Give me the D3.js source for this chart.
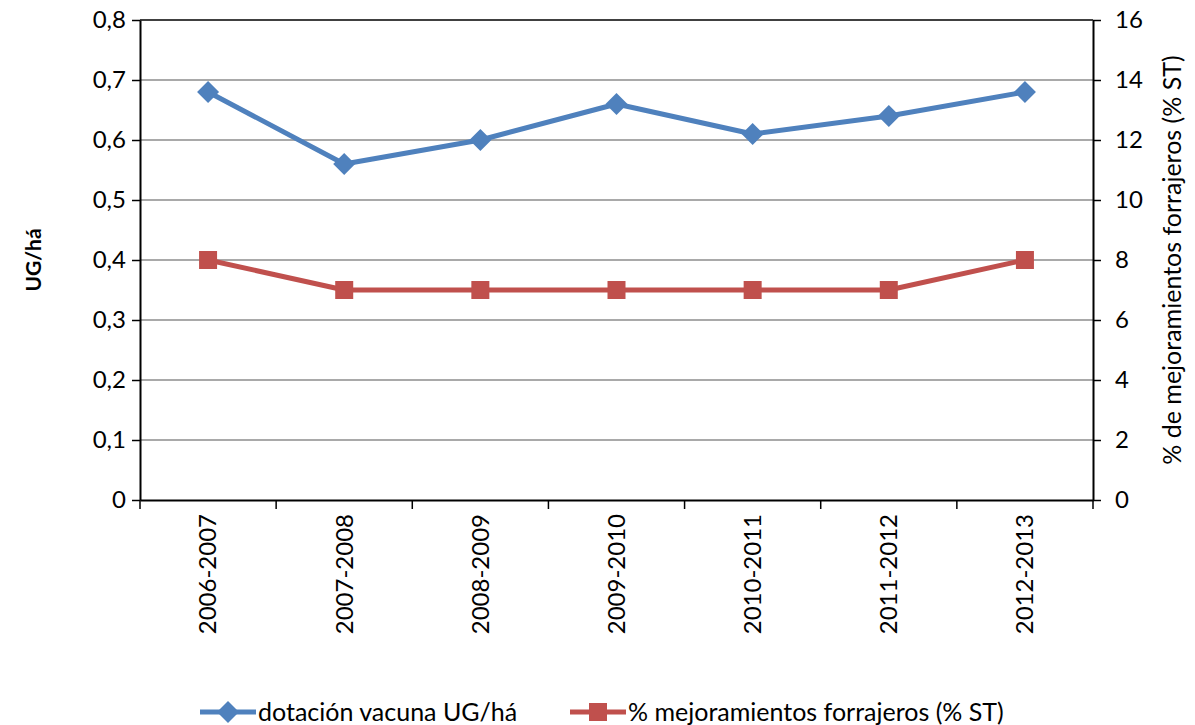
<!DOCTYPE html>
<html>
<head>
<meta charset="utf-8">
<script src="https://cdn.jsdelivr.net/npm/d3@7"></script>
<style>
  body { margin: 0; background: #fff; }
  text { font-family: Lato, "Open Sans", sans-serif; fill: #000; }
</style>
</head>
<body>
<div id="chart"></div>
<script>
var categories = ["2006-2007", "2007-2008", "2008-2009", "2009-2010", "2010-2011", "2011-2012", "2012-2013"];
var dotacion = [0.68, 0.56, 0.60, 0.66, 0.61, 0.64, 0.68];
var mejoramientos = [8, 7, 7, 7, 7, 7, 8];
var leftTicks = [0, 0.1, 0.2, 0.3, 0.4, 0.5, 0.6, 0.7, 0.8];
var rightTicks = [0, 2, 4, 6, 8, 10, 12, 14, 16];

var width = 1195, height = 725;
var plotLeft = 140, plotRight = 1093, plotTop = 20, plotBottom = 500;

var svg = d3.select("#chart").append("svg")
  .attr("width", width).attr("height", height);

var x = d3.scaleBand().domain(categories).range([plotLeft, plotRight]);
var yL = d3.scaleLinear().domain([0, 0.8]).range([plotBottom, plotTop]);
var yR = d3.scaleLinear().domain([0, 16]).range([plotBottom, plotTop]);

// gridlines
svg.append("g").selectAll("line")
  .data(leftTicks.slice(1, -1))
  .enter().append("line")
  .attr("x1", plotLeft).attr("x2", plotRight)
  .attr("y1", function(d) { return yL(d); })
  .attr("y2", function(d) { return yL(d); })
  .attr("stroke", "#8c8c8c").attr("stroke-width", 1.5);

// top border
svg.append("line")
  .attr("x1", plotLeft).attr("x2", plotRight)
  .attr("y1", plotTop).attr("y2", plotTop)
  .attr("stroke", "#000").attr("stroke-width", 1.5);

var fmt = function(d) { return d === 0 ? "0" : d3.format(".1f")(d).replace(".", ","); };

var axL = svg.append("g").attr("transform", "translate(" + plotLeft + ",0)")
  .call(d3.axisLeft(yL).tickValues(leftTicks).tickFormat(fmt).tickSize(8).tickPadding(6).tickSizeOuter(0));
var axR = svg.append("g").attr("transform", "translate(" + plotRight + ",0)")
  .call(d3.axisRight(yR).tickValues(rightTicks).tickSize(8).tickPadding(14).tickSizeOuter(0));

var axB = svg.append("g").attr("transform", "translate(0," + plotBottom + ")")
  .call(d3.axisBottom(x).tickSize(0).tickSizeOuter(0));
axB.selectAll("text")
  .attr("transform", "rotate(-90)")
  .attr("text-anchor", "end")
  .attr("dy", "0.35em")
  .attr("x", -14).attr("y", 0);

// category separator ticks
svg.append("g").selectAll("line")
  .data(d3.range(categories.length + 1))
  .enter().append("line")
  .attr("x1", function(i) { return plotLeft + i * x.step(); })
  .attr("x2", function(i) { return plotLeft + i * x.step(); })
  .attr("y1", plotBottom).attr("y2", plotBottom + 9)
  .attr("stroke", "#000").attr("stroke-width", 1.5);

[axL, axR, axB].forEach(function(a) {
  a.selectAll("path, line").attr("stroke", "#000").attr("stroke-width", 1.5);
  a.select(".domain").attr("stroke-width", 2);
  a.selectAll("text").attr("font-size", 24).attr("font-family", "Lato, sans-serif").attr("fill", "#000");
});

// axis titles
svg.append("text")
  .attr("transform", "translate(41," + ((plotTop + plotBottom) / 2) + ") rotate(-90)")
  .attr("text-anchor", "middle")
  .attr("font-size", 21).attr("font-weight", "bold")
  .text("UG/há");
svg.append("text")
  .attr("transform", "translate(1181," + ((plotTop + plotBottom) / 2) + ") rotate(-90)")
  .attr("text-anchor", "middle")
  .attr("font-size", 25)
  .text("% de mejoramientos forrajeros (% ST)");

var cx = function(i) { return x(categories[i]) + x.bandwidth() / 2; };

var blue = "#4f81bd", red = "#c0504d";
svg.append("path")
  .datum(dotacion)
  .attr("fill", "none").attr("stroke", blue).attr("stroke-width", 5)
  .attr("stroke-linejoin", "round")
  .attr("d", d3.line().x(function(d, i) { return cx(i); }).y(function(d) { return yL(d); }));

svg.append("path")
  .datum(mejoramientos)
  .attr("fill", "none").attr("stroke", red).attr("stroke-width", 5)
  .attr("stroke-linejoin", "round")
  .attr("d", d3.line().x(function(d, i) { return cx(i); }).y(function(d) { return yR(d); }));

var diamond = "M0,-11L11,0L0,11L-11,0Z";
svg.append("g").selectAll("path")
  .data(dotacion).enter().append("path")
  .attr("d", diamond)
  .attr("fill", blue)
  .attr("transform", function(d, i) { return "translate(" + cx(i) + "," + yL(d) + ")"; });

svg.append("g").selectAll("rect")
  .data(mejoramientos).enter().append("rect")
  .attr("x", function(d, i) { return cx(i) - 9; })
  .attr("y", function(d) { return yR(d) - 9; })
  .attr("width", 18).attr("height", 18)
  .attr("fill", red);

// legend
var legend = [
  { label: "dotación vacuna UG/há", color: blue, shape: "diamond", x: 200 },
  { label: "% mejoramientos forrajeros (% ST)", color: red, shape: "square", x: 570 }
];
var ly = 712;
legend.forEach(function(l) {
  var g = svg.append("g").attr("transform", "translate(" + l.x + "," + ly + ")");
  g.append("line").attr("x1", 0).attr("x2", 56).attr("y1", 0).attr("y2", 0)
    .attr("stroke", l.color).attr("stroke-width", 5);
  if (l.shape == "diamond") {
    g.append("path").attr("d", diamond).attr("fill", l.color).attr("transform", "translate(28,0)");
  } else {
    g.append("rect").attr("x", 19).attr("y", -9).attr("width", 18).attr("height", 18).attr("fill", l.color);
  }
  g.append("text").attr("x", 58).attr("y", 0).attr("dy", "0.35em")
    .attr("font-size", 25).text(l.label);
});
</script>
</body>
</html>
